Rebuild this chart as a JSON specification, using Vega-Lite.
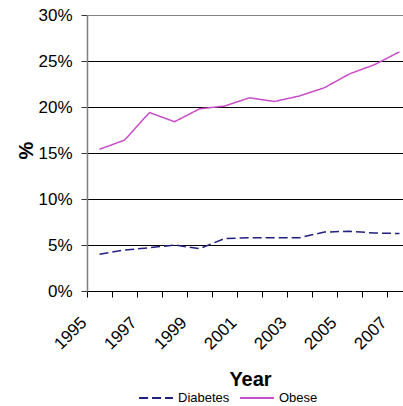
{
  "$schema": "https://vega.github.io/schema/vega-lite/v6.json",
  "width": 316,
  "height": 276,
  "autosize": {"type": "none"},
  "padding": {"left": 87, "top": 15, "right": 0, "bottom": 115},
  "background": "white",
  "config": {
    "view": {"stroke": null},
    "font": "Liberation Sans"
  },
  "data": {
    "values": [
      {"year": 1995, "series": "Diabetes", "value": 0.040},
      {"year": 1996, "series": "Diabetes", "value": 0.0445},
      {"year": 1997, "series": "Diabetes", "value": 0.047},
      {"year": 1998, "series": "Diabetes", "value": 0.050},
      {"year": 1999, "series": "Diabetes", "value": 0.046},
      {"year": 2000, "series": "Diabetes", "value": 0.057},
      {"year": 2001, "series": "Diabetes", "value": 0.058},
      {"year": 2002, "series": "Diabetes", "value": 0.058},
      {"year": 2003, "series": "Diabetes", "value": 0.058},
      {"year": 2004, "series": "Diabetes", "value": 0.064},
      {"year": 2005, "series": "Diabetes", "value": 0.065},
      {"year": 2006, "series": "Diabetes", "value": 0.063},
      {"year": 2007, "series": "Diabetes", "value": 0.0625},
      {"year": 1995, "series": "Obese", "value": 0.154},
      {"year": 1996, "series": "Obese", "value": 0.164},
      {"year": 1997, "series": "Obese", "value": 0.194},
      {"year": 1998, "series": "Obese", "value": 0.184},
      {"year": 1999, "series": "Obese", "value": 0.198},
      {"year": 2000, "series": "Obese", "value": 0.201},
      {"year": 2001, "series": "Obese", "value": 0.210},
      {"year": 2002, "series": "Obese", "value": 0.206},
      {"year": 2003, "series": "Obese", "value": 0.212},
      {"year": 2004, "series": "Obese", "value": 0.221},
      {"year": 2005, "series": "Obese", "value": 0.236},
      {"year": 2006, "series": "Obese", "value": 0.246},
      {"year": 2007, "series": "Obese", "value": 0.260}
    ]
  },
  "mark": {"type": "line", "strokeWidth": 1.5, "clip": false},
  "encoding": {
    "x": {
      "field": "year",
      "type": "quantitative",
      "scale": {"domain": [1994.5, 2007.14], "nice": false, "zero": false},
      "axis": {
        "title": "Year",
        "titleFontSize": 20,
        "titleFontWeight": "bold",
        "titleColor": "black",
        "titleX": 163,
        "titleY": 94,
        "titleBaseline": "alphabetic",
        "titleAnchor": null,
        "titleAlign": "center",
        "values": [1994.5, 1995.5, 1996.5, 1997.5, 1998.5, 1999.5, 2000.5, 2001.5, 2002.5, 2003.5, 2004.5, 2005.5, 2006.5],
        "labelExpr": "(datum.value - 1994.5) % 2 == 0 ? format(datum.value + 0.5, 'd') : ''",
        "labelAngle": -45,
        "labelAlign": "right",
        "labelBaseline": "top",
        "labelOffset": -9,
        "labelPadding": 17,
        "labelFontSize": 17,
        "labelColor": "black",
        "labelOverlap": false,
        "labelBound": false,
        "labelFlush": false,
        "tickSize": 6,
        "tickColor": "black",
        "domainColor": "black",
        "grid": false
      }
    },
    "y": {
      "field": "value",
      "type": "quantitative",
      "scale": {"domain": [0, 0.3], "nice": false},
      "axis": {
        "title": "%",
        "titleFontSize": 20,
        "titleFontWeight": "bold",
        "titleColor": "black",
        "titleAngle": -90,
        "titleX": -55,
        "titleY": 135,
        "titleBaseline": "alphabetic",
        "titleAlign": "center",
        "values": [0, 0.05, 0.1, 0.15, 0.2, 0.25, 0.3],
        "format": ".0%",
        "labelFontSize": 17,
        "labelColor": "black",
        "labelPadding": 9,
        "tickSize": 6,
        "tickColor": "#333333",
        "domainColor": "#808080",
        "domainWidth": 1.5,
        "grid": true,
        "gridColor": {"condition": {"test": "datum.value >= 0.29", "value": "#808080"}, "value": "black"},
        "gridOpacity": 1,
        "gridWidth": 1
      }
    },
    "color": {
      "field": "series",
      "type": "nominal",
      "scale": {"domain": ["Diabetes", "Obese"], "range": ["#202080", "#c84cc8"]},
      "legend": {
        "title": null,
        "orient": "none",
        "direction": "horizontal",
        "legendX": 51,
        "legendY": 365,
        "padding": 0,
        "symbolType": "stroke",
        "symbolSize": 1150,
        "symbolStrokeWidth": 2,
        "labelFontSize": 13,
        "labelColor": "black",
        "labelOffset": 4,
        "columnPadding": 6
      }
    },
    "strokeDash": {
      "field": "series",
      "type": "nominal",
      "scale": {"domain": ["Diabetes", "Obese"], "range": [[9, 4], [1, 0]]},
      "legend": {
        "title": null,
        "orient": "none",
        "direction": "horizontal",
        "legendX": 51,
        "legendY": 365,
        "padding": 0,
        "symbolType": "stroke",
        "symbolSize": 1150,
        "symbolStrokeWidth": 2,
        "labelFontSize": 13,
        "labelColor": "black",
        "labelOffset": 4,
        "columnPadding": 6
      }
    }
  }
}
